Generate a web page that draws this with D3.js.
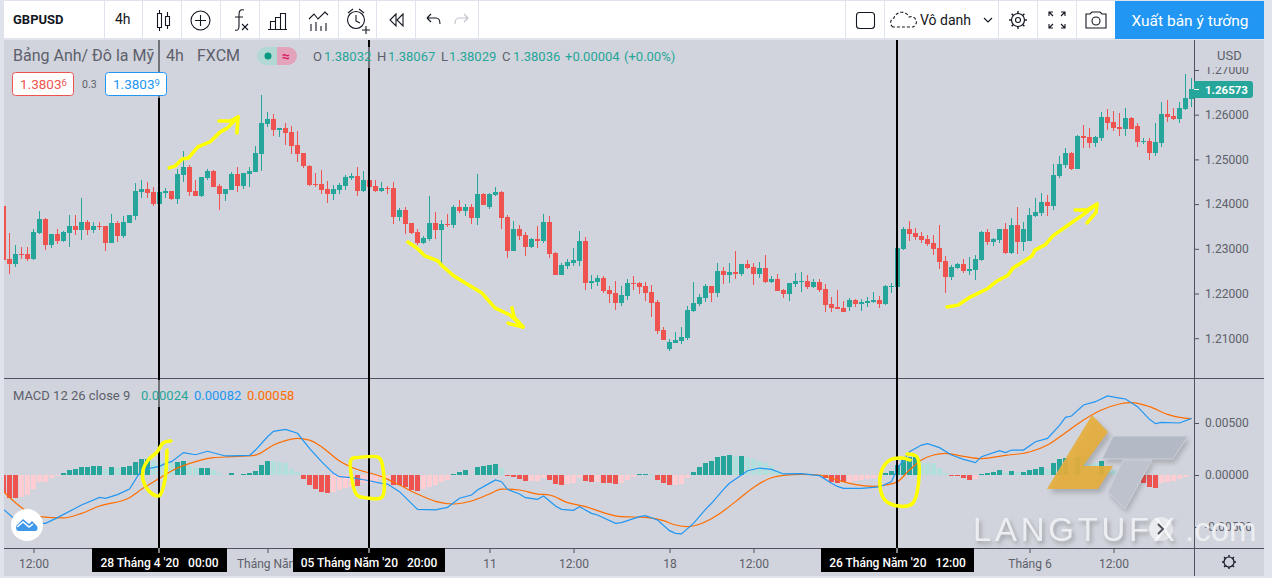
<!DOCTYPE html>
<html><head><meta charset="utf-8">
<style>html,body{margin:0;padding:0;background:#e0e3eb;overflow:hidden}svg{display:block}text{font-family:Roboto,"Noto Sans",sans-serif}</style>
<script src="https://cdnjs.cloudflare.com/ajax/libs/d3/7.8.5/d3.min.js"></script>
</head><body><svg id="c" width="1272" height="578"></svg>
<script>
const opens=[1.23958,1.22772,1.22660,1.22884,1.22884,1.22772,1.23354,1.23667,1.23085,1.23332,1.23175,1.23354,1.23511,1.23421,1.23600,1.23421,1.23511,1.23511,1.23130,1.23578,1.23287,1.23578,1.23734,1.24271,1.24338,1.24271,1.24003,1.24249,1.24294,1.24115,1.24652,1.24830,1.24294,1.24182,1.24584,1.24741,1.24405,1.24226,1.24316,1.24674,1.24405,1.24674,1.24719,1.25121,1.25792,1.25904,1.25658,1.25703,1.25613,1.25323,1.25144,1.24853,1.24450,1.24450,1.24338,1.24226,1.24315,1.24405,1.24584,1.24629,1.24293,1.24539,1.24405,1.24293,1.24360,1.24360,1.23711,1.23868,1.23577,1.23376,1.23130,1.23219,1.23577,1.23421,1.23555,1.23532,1.23935,1.23846,1.23935,1.23689,1.24226,1.23935,1.24204,1.24271,1.23711,1.22951,1.23443,1.23309,1.23040,1.23219,1.23174,1.23600,1.22906,1.22414,1.22615,1.22682,1.22727,1.23174,1.22235,1.22258,1.22347,1.22078,1.22011,1.21787,1.21944,1.22235,1.22235,1.22167,1.22033,1.21810,1.21183,1.20758,1.20892,1.20937,1.21004,1.21608,1.21765,1.21899,1.22167,1.22011,1.22503,1.22414,1.22481,1.22436,1.22660,1.22593,1.22436,1.22570,1.22257,1.22324,1.22078,1.21989,1.22212,1.22257,1.22279,1.22145,1.22257,1.22100,1.21765,1.21698,1.21675,1.21698,1.21854,1.21765,1.21787,1.21810,1.21854,1.21765,1.22145,1.22145,1.22996,1.23443,1.23354,1.23286,1.23219,1.23130,1.23018,1.22727,1.22369,1.22571,1.22660,1.22503,1.22526,1.22749,1.23376,1.23152,1.23197,1.23443,1.22906,1.23532,1.23152,1.23175,1.23734,1.23801,1.24047,1.23958,1.24629,1.24875,1.25143,1.24785,1.25524,1.25501,1.25367,1.25479,1.25949,1.25837,1.25725,1.25680,1.25926,1.25747,1.25389,1.25412,1.25143,1.25367,1.26016,1.25971,1.25904,1.26128,1.26351];
const highs=[1.24020,1.23354,1.23085,1.23041,1.23041,1.23443,1.23846,1.23689,1.23332,1.23443,1.23399,1.23757,1.23757,1.24137,1.23645,1.23600,1.23600,1.23511,1.23779,1.23622,1.23734,1.23757,1.24472,1.24539,1.24495,1.24383,1.24316,1.24360,1.24294,1.24786,1.25188,1.24875,1.24539,1.24607,1.24786,1.24763,1.24450,1.24338,1.24719,1.24830,1.24696,1.24830,1.25300,1.26441,1.26061,1.26016,1.25703,1.25815,1.25748,1.25636,1.25144,1.24875,1.24703,1.24763,1.24517,1.24427,1.24472,1.24651,1.24696,1.24830,1.24741,1.24539,1.24539,1.24494,1.24405,1.24494,1.23913,1.23935,1.23577,1.23443,1.23286,1.24181,1.23823,1.23644,1.23779,1.23980,1.24092,1.24002,1.24002,1.24673,1.24248,1.24248,1.24383,1.24293,1.23756,1.23622,1.23533,1.23376,1.23242,1.23510,1.23779,1.23734,1.22928,1.22682,1.22772,1.23018,1.23398,1.23264,1.22414,1.22414,1.22392,1.22168,1.22279,1.22167,1.22324,1.22391,1.22257,1.22257,1.22190,1.21854,1.21250,1.20982,1.21139,1.21250,1.21720,1.22257,1.21989,1.22212,1.22167,1.22682,1.22593,1.22682,1.22951,1.22660,1.22749,1.22682,1.22704,1.22861,1.22391,1.22436,1.22100,1.22235,1.22458,1.22481,1.22414,1.22324,1.22324,1.22212,1.21921,1.22078,1.21832,1.21899,1.21877,1.21877,1.21921,1.22033,1.21944,1.22190,1.22235,1.23040,1.23488,1.23622,1.23465,1.23376,1.23309,1.23309,1.23532,1.22839,1.22638,1.22682,1.22772,1.22817,1.22861,1.23398,1.23443,1.23242,1.23443,1.23577,1.23689,1.23935,1.23599,1.23913,1.24137,1.24248,1.24204,1.24897,1.25076,1.25255,1.25166,1.25546,1.25770,1.25702,1.25524,1.26060,1.26128,1.26083,1.26038,1.26150,1.25949,1.25814,1.25479,1.25479,1.25814,1.26284,1.26329,1.26150,1.26284,1.26910,1.26820];
const lows=[1.22700,1.22437,1.22601,1.22772,1.22727,1.22750,1.23332,1.22974,1.23018,1.23108,1.23153,1.23041,1.23309,1.23197,1.23309,1.23354,1.23421,1.22951,1.23130,1.23153,1.23242,1.23578,1.23645,1.24137,1.24137,1.23958,1.23980,1.24137,1.24092,1.24003,1.24495,1.24182,1.24182,1.24159,1.24539,1.24383,1.23868,1.24070,1.24316,1.24271,1.24338,1.24383,1.24719,1.24741,1.25725,1.25524,1.25502,1.25323,1.25121,1.24942,1.24808,1.24405,1.24375,1.24226,1.24025,1.24092,1.24226,1.24315,1.24539,1.24181,1.24271,1.24383,1.24271,1.24271,1.24226,1.23555,1.23622,1.23331,1.23331,1.23085,1.23107,1.23174,1.23219,1.22638,1.23488,1.23465,1.23801,1.23734,1.23555,1.23532,1.23980,1.23890,1.24181,1.23443,1.22794,1.22951,1.23197,1.22839,1.23018,1.23018,1.23130,1.22794,1.22414,1.22414,1.22548,1.22615,1.22615,1.22078,1.22101,1.22168,1.22011,1.21787,1.21631,1.21720,1.21854,1.22078,1.21989,1.21832,1.21474,1.21094,1.20959,1.20713,1.20892,1.20870,1.20959,1.21586,1.21720,1.21810,1.21810,1.21921,1.22212,1.22235,1.22324,1.22391,1.22548,1.22190,1.22346,1.22235,1.22235,1.22056,1.21899,1.21832,1.22145,1.22033,1.22100,1.22123,1.22033,1.21586,1.21586,1.21653,1.21586,1.21608,1.21698,1.21608,1.21698,1.21787,1.21675,1.21743,1.22011,1.22145,1.22973,1.23175,1.23197,1.23130,1.23063,1.22861,1.22548,1.22011,1.22302,1.22548,1.22459,1.22414,1.22302,1.22727,1.23085,1.23063,1.23130,1.22884,1.22884,1.22884,1.22951,1.23175,1.23711,1.23734,1.23734,1.23868,1.24584,1.24808,1.24763,1.24785,1.25255,1.25255,1.25277,1.25412,1.25658,1.25635,1.25524,1.25524,1.25680,1.25277,1.25345,1.24987,1.25076,1.25277,1.25837,1.25881,1.25814,1.26105,1.26172];
const closes=[1.22750,1.22660,1.22884,1.22862,1.22772,1.23376,1.23667,1.23085,1.23332,1.23175,1.23376,1.23511,1.23421,1.23600,1.23421,1.23511,1.23488,1.23130,1.23578,1.23287,1.23600,1.23757,1.24294,1.24338,1.24249,1.24003,1.24271,1.24294,1.24115,1.24674,1.24830,1.24271,1.24182,1.24607,1.24741,1.24383,1.24226,1.24338,1.24674,1.24405,1.24696,1.24741,1.25144,1.25815,1.25904,1.25658,1.25703,1.25591,1.25300,1.25121,1.24853,1.24428,1.24427,1.24315,1.24226,1.24338,1.24427,1.24606,1.24629,1.24293,1.24539,1.24383,1.24293,1.24360,1.24338,1.23711,1.23868,1.23555,1.23354,1.23130,1.23242,1.23577,1.23421,1.23555,1.23532,1.23935,1.23846,1.23935,1.23689,1.24226,1.23980,1.24226,1.24271,1.23689,1.22951,1.23443,1.23286,1.23040,1.23219,1.23174,1.23600,1.22884,1.22414,1.22638,1.22705,1.22749,1.23174,1.22235,1.22280,1.22347,1.22056,1.21989,1.21787,1.21966,1.22235,1.22212,1.22145,1.22011,1.21787,1.21161,1.20959,1.20915,1.20959,1.21027,1.21631,1.21787,1.21921,1.22167,1.22011,1.22503,1.22414,1.22481,1.22436,1.22660,1.22570,1.22436,1.22570,1.22257,1.22324,1.22056,1.21989,1.22235,1.22279,1.22279,1.22145,1.22257,1.22078,1.21743,1.21675,1.21653,1.21586,1.21854,1.21765,1.21810,1.21832,1.21854,1.21765,1.22167,1.22168,1.23018,1.23443,1.23331,1.23264,1.23197,1.23107,1.22996,1.22705,1.22369,1.22593,1.22660,1.22503,1.22548,1.22772,1.23376,1.23152,1.23219,1.23443,1.22906,1.23532,1.23152,1.23443,1.23756,1.23823,1.24047,1.23958,1.24651,1.24897,1.25143,1.24785,1.25524,1.25479,1.25367,1.25501,1.25949,1.25814,1.25702,1.25680,1.25926,1.25680,1.25389,1.25412,1.25143,1.25389,1.26016,1.25949,1.25904,1.26150,1.26374,1.26573];

const histValues=[-176,-221,-222,-214,-192,-135,-67,-65,-32,-10,19,45,61,77,77,84,87,58,74,72,80,89,125,154,156,135,133,118,112,128,132,84,77,67,67,48,22,3,19,1,10,16,38,96,135,134,128,112,58,26,-38,-96,-135,-163,-176,-160,-144,-125,-112,-106,-77,-74,-64,-38,-32,-96,-96,-112,-144,-154,-137,-118,-96,-67,-48,10,29,48,3,77,87,99,109,70,-10,-19,-38,-58,-58,-57,-29,-48,-87,-96,-87,-77,-29,-58,-67,-66,-77,-77,-87,-77,-48,-19,10,10,9,-48,-77,-96,-95,-87,-29,29,77,115,135,173,183,192,183,183,173,154,135,115,87,48,16,10,7,3,0,-1,-10,-29,-64,-74,-70,-64,-55,-48,-38,-26,-16,22,38,96,144,173,170,112,118,118,70,22,-10,-13,-26,-51,-41,7,16,29,48,22,38,26,32,48,55,77,55,118,151,163,93,173,144,106,112,135,74,48,32,7,3,-32,-80,-118,-128,-80,-70,-58,-41,-22,3];
const histKinds="RRR kkkkkkk TTTTTTT p T p TTTTT pppp TT pp TT ppp T p TTTTT ppppp RRRRR kkkk R kkkkk RRRRR kkkkk TTT p TTTT p RRRR kkk RRR kkk RR k RRR kkk TT p RRR kkk TTTTTTT p T ppppppppppp kk RRRR kkkkkk TTTTTT ppppp RRRR k TTTT p T p TTTT p TTT p T ppp T ppppp k RRR kkkkk T".replace(/ /g,"").split("");
const macdBars=[0,2,4,7,9,13,16,17,19,21,23,26,27,28,30,32,34,37,38,41,42,44,45,47,49,51,53,55,56,58,61,63,64,66,69,72,74,76,78,79,80,82,83,84,86,87,89,90,92,93,95,96,98,99,102,103,106,107,109,111,112,113,115,117,118,120,121,124,126,128,130,133,136,138,139,140,143,146,148,149,151,153,154,156,158,160,162,163,166,167,168,170,172,174,176,177,178,180,182,184,186,187,189,191,192,193,196,198];
const macdValues=[-330,-433,-460,-465,-410,-288,-215,-224,-189,-135,48,83,112,128,215,195,228,183,183,189,240,368,420,439,401,256,128,16,-16,-26,-55,-80,-87,-160,-330,-336,-311,-224,-192,-144,-112,-48,-64,-138,-183,-218,-234,-202,-298,-330,-340,-304,-369,-385,-465,-458,-400,-391,-433,-535,-561,-567,-465,-330,-272,-138,-80,41,67,54,10,13,-6,-80,-110,-128,-128,-115,-64,64,224,288,301,263,192,150,119,176,234,215,240,240,320,352,478,554,567,673,705,760,740,731,657,535,494,506,500,545];
const signalBars=[0,2,4,6,10,13,16,21,23,26,28,32,35,38,42,45,49,51,53,56,58,63,66,69,72,75,78,81,83,86,89,91,94,97,100,103,107,110,112,114,116,119,122,125,128,130,133,136,139,141,145,147,149,151,153,155,157,160,163,167,171,174,177,180,183,186,188,191,194,196,198];
const signalValues=[-160,-266,-352,-401,-413,-369,-298,-218,-138,-32,39,128,167,176,192,288,352,336,272,135,74,-16,-96,-183,-253,-279,-250,-183,-135,-144,-183,-192,-266,-304,-362,-401,-407,-439,-481,-497,-474,-385,-256,-119,-26,-3,6,0,-48,-80,-109,-96,-64,48,144,192,208,179,157,189,221,288,407,529,625,683,696,658,583,554,542];
const priceTicks=[1.27,1.26,1.25,1.24,1.23,1.22,1.21];
const macdTicks=[0.005,0,-0.005];
const timeBars=[5,44,81,95,111,125,171,185];
const timeLabels=["12:00","Tháng Năm","11","12:00","18","12:00","Tháng 6","12:00"];
const markerBars=[26,61,149];
const markerLabels=["28 Tháng 4 '20   00:00","05 Tháng Năm '20   20:00","26 Tháng Năm '20   12:00"];
const lastPrice=1.26573;
const arrowUp1=[[27.6,1.2481],[28.6,1.2485],[29.8,1.2501],[30.8,1.2503],[32.4,1.2528],[34.4,1.2539],[36.1,1.2561],[37.3,1.257],[39.1,1.2595]];
const arrowUp1Head=[[35.9,1.2586],[37.8,1.2586],[39.1,1.2595],[38.9,1.2559]];
const arrowDown=[[67.4,1.2315],[68.9,1.2302],[70.25,1.2284],[72.4,1.2273],[73.1,1.2262],[74.9,1.2241],[76.9,1.2224],[79.75,1.2201],[81.9,1.2168],[84.4,1.2152],[86.6,1.2125]];
const arrowDownHead=[[84.75,1.2168],[85.1,1.2147],[86.6,1.2125],[84.4,1.2132],[84.1,1.2134]];
const arrowUp2=[[157.25,1.217],[159.1,1.2174],[161.1,1.2192],[163.9,1.221],[165.6,1.2228],[167.4,1.2241],[168.25,1.2257],[171.4,1.2284],[171.9,1.2297],[173.6,1.2309],[174.9,1.2329],[177.75,1.2356],[179.9,1.2376],[182.25,1.24]];
const arrowUp2Head=[[178.6,1.2387],[180.6,1.2387],[182.25,1.24],[182.1,1.2382],[180.6,1.2358]];
const loop1=[[27.9,327],[26.6,308],[25.6,221],[24.1,144],[23.25,48],[23.25,-48],[24.1,-144],[25.6,-202],[26.1,-192],[26.9,-48],[27.25,240]];
const loop2=[[58.25,163],[62.4,173],[62.9,144],[63.1,-212],[60.6,-221],[58.9,-192],[58.1,-48],[57.9,144],[58.25,163]];
const loop3=[[150.6,202],[152.25,173],[152.25,-173],[151.4,-279],[149.1,-298],[146.9,-240],[146.1,-115],[146.4,48],[147.75,144],[149.75,163],[151.1,144]];

const UP="#26a69a",DN="#ef5350",BG="#d1d4dc",EDGE="#e0e3eb",AX="#50535e",TXT="#5d606b";
const HC={T:"#26a69a",p:"#b2dfdb",R:"#ef5350",k:"#ffcdd2"};
const svg=d3.select("#c");
const x=d3.scaleLinear().domain([0,198]).range([3.5,1191.5]);
const py=d3.scaleLinear().domain([1.21,1.27]).range([338.2,70]);
const my=d3.scaleLinear().domain([-0.005,0.005]).range([527,423]);
const E5=1e-5;
svg.append("rect").attr("width",1272).attr("height",578).attr("fill",EDGE);
svg.append("rect").attr("x",4).attr("y",1).attr("width",1260).attr("height",37).attr("fill","#fff");
svg.append("rect").attr("x",4).attr("y",40).attr("width",1260).attr("height",536).attr("fill",BG);
const defs=svg.append("defs");
defs.append("clipPath").attr("id","pp").append("rect").attr("x",4).attr("y",40).attr("width",1190).attr("height",338);
defs.append("clipPath").attr("id","mp").append("rect").attr("x",4).attr("y",379).attr("width",1190).attr("height",169);

// candles
const bars=d3.range(opens.length);
const cg=svg.append("g").attr("clip-path","url(#pp)");
cg.selectAll("rect.w").data(bars).join("rect").attr("class","w")
 .attr("x",i=>Math.floor(x(i))).attr("width",1)
 .attr("y",i=>Math.round(py(highs[i]))).attr("height",i=>Math.max(1,Math.round(py(lows[i]))-Math.round(py(highs[i]))))
 .attr("fill",i=>closes[i]>=opens[i]?UP:DN);
cg.selectAll("rect.b").data(bars).join("rect").attr("class","b")
 .attr("x",i=>Math.floor(x(i))-2).attr("width",5)
 .attr("y",i=>Math.round(py(Math.max(opens[i],closes[i]))))
 .attr("height",i=>Math.max(1,Math.round(py(Math.min(opens[i],closes[i])))-Math.round(py(Math.max(opens[i],closes[i])))))
 .attr("fill",i=>closes[i]>=opens[i]?UP:DN);

// macd
const mg=svg.append("g").attr("clip-path","url(#mp)");
mg.selectAll("rect").data(histValues).join("rect")
 .attr("x",(d,i)=>Math.floor(x(i))-2).attr("width",5)
 .attr("y",d=>Math.round(my(Math.max(0,d*E5))))
 .attr("height",d=>Math.round(Math.abs(my(d*E5)-my(0))))
 .attr("fill",(d,i)=>HC[histKinds[i]]);
const ln=d3.line().x(d=>x(d[0])).y(d=>my(d[1]*E5));
mg.append("path").attr("d",d3.line().x(d=>x(d[0])).y(d=>my(d[1]*E5)).curve(d3.curveMonotoneX)(d3.zip(signalBars,signalValues))).attr("fill","none").attr("stroke","#ff6d00").attr("stroke-width",1.2);
mg.append("path").attr("d",ln(d3.zip(macdBars,macdValues))).attr("fill","none").attr("stroke","#2196f3").attr("stroke-width",1.2);

// pane lines
const line=(a,b,c,d,col,w)=>svg.append("line").attr("x1",a).attr("y1",b).attr("x2",c).attr("y2",d).attr("stroke",col).attr("stroke-width",w||1);
line(4,378.5,1264,378.5,AX);
line(4,548.5,1264,548.5,AX);
line(1194.5,40,1194.5,576,AX);

// axes
function styleAxis(g){g.select(".domain").remove();g.selectAll("line").attr("stroke",AX);g.selectAll("text").attr("fill",TXT).style("font-size","12px").style("font-family","Roboto");}
svg.append("g").attr("transform","translate(1194,0)").call(d3.axisRight(py).tickValues(priceTicks).tickSize(5).tickFormat(d3.format(".5f")).tickPadding(6)).call(styleAxis);
svg.append("g").attr("transform","translate(1194,0)").call(d3.axisRight(my).tickValues(macdTicks).tickSize(5).tickPadding(6).tickFormat(d=>d3.format(".5f")(d).replace("−","-"))).call(styleAxis);
svg.append("g").attr("transform","translate(0,548)").call(d3.axisBottom(x).tickValues(timeBars).tickSize(5).tickPadding(6).tickFormat((d,i)=>timeLabels[i])).call(styleAxis);
// USD header hides top of first price tick
svg.append("rect").attr("x",1200).attr("y",40).attr("width",62).attr("height",27).attr("fill",BG);
svg.append("text").attr("x",1217).attr("y",60).attr("fill",TXT).style("font-size","13px").text("USD");

// last price label
svg.append("path").attr("d","M1194 81H1250a3 3 0 0 1 3 3V95a3 3 0 0 1 -3 3H1194Z").attr("fill",UP);
line(1194,Math.round(py(lastPrice))+0.5,1199,Math.round(py(lastPrice))+0.5,"#fff");
svg.append("text").attr("x",1205).attr("y",94).attr("fill","#fff").style("font-size","11.5px").style("font-weight",700).text(d3.format(".5f")(lastPrice));

// marker lines
markerBars.forEach((b,i)=>{
 const px=Math.floor(x(b));
 svg.append("rect").attr("x",px-1).attr("y",40).attr("width",2).attr("height",508).attr("fill","#000");
 const w=i==0?135:i==1?152:153, l=[92,293,821][i];
 svg.append("rect").attr("x",l).attr("y",548).attr("width",w).attr("height",24).attr("fill","#000");
 svg.append("rect").attr("x",px-0.5).attr("y",548).attr("width",1).attr("height",5).attr("fill","#fff");
 svg.append("text").attr("x",l+w/2).attr("y",567).attr("text-anchor","middle").attr("fill","#fff").style("font-size","12px").style("font-weight",500).style("white-space","pre").text(markerLabels[i]);
});
// legend wash over the marker lines
[[156,40,8,58],[366,47,8,21],[156,380,8,27]].forEach(r=>svg.append("rect").attr("x",r[0]).attr("y",r[1]).attr("width",r[2]).attr("height",r[3]).attr("fill",BG).attr("opacity",.55));

// legend
const T=(s,a,b,c,fs,w,anc)=>{const t=svg.append("text").attr("x",a).attr("y",b).attr("fill",c).style("font-size",fs+"px").text(s);if(w)t.style("font-weight",w);if(anc)t.attr("text-anchor",anc);return t;};
T("Bảng Anh/ Đô la Mỹ",13,61,"#5d606b",16);
T("4h",166,61,"#5d606b",16);
T("FXCM",197,61,"#5d606b",16);
svg.append("path").attr("d","M266 47H277V65H266a9 9 0 0 1 0-18Z").attr("fill","#b2d8d6");
svg.append("path").attr("d","M277 47H288a9 9 0 0 1 0 18H277Z").attr("fill","#e3a4bb");
svg.append("circle").attr("cx",268).attr("cy",56).attr("r",3.5).attr("fill","#089981");
T("≈",286,61,"#d81b60",14,700,"middle");
const OC="#26a69a";
[["O",313,TXT],["1.38032",324,OC],["H",377,TXT],["1.38067",388,OC],["L",441,TXT],["1.38029",449,OC],["C",502,TXT],["1.38036",513,OC],["+0.00004",565,OC],["(+0.00%)",624,OC]].forEach(d=>T(d[0],d[1],61,d[2],13));
const box=(a,w,c)=>svg.append("rect").attr("x",a+.5).attr("y",72.5).attr("width",w).attr("height",23).attr("rx",3).attr("fill","#fff").attr("stroke",c);
box(12,61,"#ef5350");box(105,61,"#2196f3");
const sup=(a,s,e,c)=>{const t=T(s,a,89,c,13.5);t.append("tspan").attr("dy",-3).style("font-size","9.5px").text(e);};
sup(20,"1.3803","6","#ef5350");sup(113,"1.3803","9","#2196f3");
T("0.3",82,88,TXT,10.5);
T("MACD 12 26 close 9",13,400,TXT,13);
T("0.00024",141,400,UP,13);T("0.00082",194,400,"#2196f3",13);T("0.00058",247,400,"#ff6d00",13);

// freehand marks (bar, price) / (bar, macd)
const pen=d3.line().x(d=>x(d[0])).y(d=>py(d[1]));
const pen2=d3.line().x(d=>x(d[0])).y(d=>my(d[1]*E5)).curve(d3.curveCatmullRom);
const sty=s=>s.attr("fill","none").attr("stroke","#ffff00").attr("stroke-width",3.5).attr("stroke-linecap","round").attr("stroke-linejoin","round");
[arrowUp1,arrowUp1Head,arrowDown,arrowDownHead,arrowUp2,arrowUp2Head].forEach(a=>svg.append("path").attr("d",pen(a)).call(sty));
[loop1,loop2,loop3].forEach(a=>svg.append("path").attr("d",pen2(a)).call(sty));

// watermark
const wm=svg.append("g");
defs.append("filter").attr("id","sh").html('<feGaussianBlur stdDeviation="2.5"/>');
wm.append("path").attr("d","M1092 415L1108 432L1083 466H1113L1098 489H1047Z").attr("fill","#000").attr("opacity",.18).attr("transform","translate(3,4)").attr("filter","url(#sh)");
wm.append("path").attr("d","M1092 415L1108 432L1083 466H1113L1098 489H1047Z").attr("fill","#e6ae3c").attr("opacity",.92);
wm.append("path").attr("d","M1113 436H1188L1173 459H1102ZM1123 460H1152L1125 509L1108 492Z").attr("fill","#000").attr("opacity",.18).attr("transform","translate(2,4)").attr("filter","url(#sh)");
wm.append("path").attr("d","M1113 436H1188L1173 459H1102Z").attr("fill","#b4bac5").attr("stroke","#ccd0d8");
wm.append("path").attr("d","M1123 460H1152L1125 509L1108 492Z").attr("fill","#bdc2cc").attr("stroke","#ccd0d8");
wm.append("text").attr("x",973).attr("y",541).attr("fill","#eceef2").style("filter","drop-shadow(2px 3px 2px rgba(0,0,0,.25))").style("font-family","Liberation Sans").style("font-size","33px").style("letter-spacing","3.7px").text("LANGTUFX");
wm.append("text").attr("x",1185).attr("y",541).attr("fill","#eceef2").style("font-family","Liberation Sans").style("font-size","33px").text(".com");
svg.append("circle").attr("cx",1161).attr("cy",529).attr("r",12).attr("fill","#fff").attr("opacity",.55);
svg.append("path").attr("d","M1158 524L1163 529L1158 534").attr("fill","none").attr("stroke","#50535e").attr("stroke-width",2);

// cloud logo
svg.append("circle").attr("cx",27).attr("cy",525).attr("r",16).attr("fill","#fff");
svg.append("path").attr("d","M18 531a4 4 0 0 1 0-7l5-5 6 5 3-3 5 5a4 4 0 0 1-1 5Z").attr("fill","#4098e8");
svg.append("path").attr("d","M17 527l6-5 6 5 4-3").attr("fill","none").attr("stroke","#fff").attr("stroke-width",1.5);

// settings gear in the axis corner
const gear=(g,cx,cy,r,col,tooth)=>{g.append("circle").attr("cx",cx).attr("cy",cy).attr("r",r).attr("fill","none").attr("stroke",col).attr("stroke-width",1.2);
 d3.range(8).forEach(k=>{const a=k*Math.PI/4;g.append("line").attr("x1",cx+Math.cos(a)*r).attr("y1",cy+Math.sin(a)*r).attr("x2",cx+Math.cos(a)*(r+tooth)).attr("y2",cy+Math.sin(a)*(r+tooth)).attr("stroke",col).attr("stroke-width",1.4);});};
gear(svg,1229,562,5,"#131722",2);

// toolbar
const ink="#131722";
[104,142,181,220,259,299,338,376,415,478,845,884,998,1037,1076].forEach(v=>line(v+.5,1,v+.5,38,EDGE));
T("GBPUSD",13,24,ink,13,700);
T("4h",115,24,ink,14);
const tb=svg.append("g").attr("fill","none").attr("stroke",ink).attr("stroke-width",1.1);
const P=d=>tb.append("path").attr("d",d);
P("M157.5 13.5h4v14h-4zM159.5 10v3.5M159.5 27.5V31M165.5 16.5h4v9h-4zM167.5 12v4.5M167.5 25.5V29");
tb.append("circle").attr("cx",200.5).attr("cy",20.5).attr("r",9.5);P("M200.5 15v11M195 20.5h11");
P("M244 10c-4-1-5 1-5 5v11c0 3-1 5-4 4M235 17h8M242 24l6 6M248 24l-6 6");
P("M270.5 29.5V21.5h5v8M275.5 29.5V17.5h5v12M280.5 29.5V13.5h5v16M268 29.5h19");
P("M309 19l5-5 4 5 7-7 3 3M311 31v-7M316 31v-9M321 31v-5M326 31v-8");
tb.append("circle").attr("cx",356).attr("cy",20).attr("r",8.5);P("M356 15v6l4 2M348 13l5-4M364 13l-5-4M362 30h8M366 26v8");
P("M396 14l-6 6 6 6zM403 14l-6 6 6 6z");
P("M427 18h9c3 0 4 2 4 6M427 18l4-4M427 18l4 4");
tb.append("path").attr("d","M468 18h-9c-3 0-4 2-4 6M468 18l-4-4M468 18l-4 4").attr("stroke","#c1c4cd");
tb.append("rect").attr("x",856.5).attr("y",12.5).attr("width",18).attr("height",16).attr("rx",3);
P("M893 27a5 5 0 0 1 1-9 8 8 0 0 1 15-1 5 5 0 0 1 4 10Z").attr("stroke-dasharray","3 2");
T("Vô danh",920,25,ink,14);
P("M984 18l4 4 4-4");
gear(tb,1018,20,6.5,ink,2.5);
tb.append("circle").attr("cx",1018).attr("cy",20).attr("r",2.5);
P("M1049 16v-4h4M1061 12h4v4M1065 24v4h-4M1053 28h-4v-4M1049 12l4 4M1065 12l-4 4M1065 28l-4-4M1049 28l4-4");
P("M1086 14h4l2-2h8l2 2h4v14h-20z");tb.append("circle").attr("cx",1096).attr("cy",21).attr("r",4);
svg.append("rect").attr("x",1115).attr("y",1).attr("width",149).attr("height",38).attr("fill","#2196f3");
T("Xuất bản ý tưởng",1190,26,"#fff",15.5,null,"middle");
</script></body></html>
